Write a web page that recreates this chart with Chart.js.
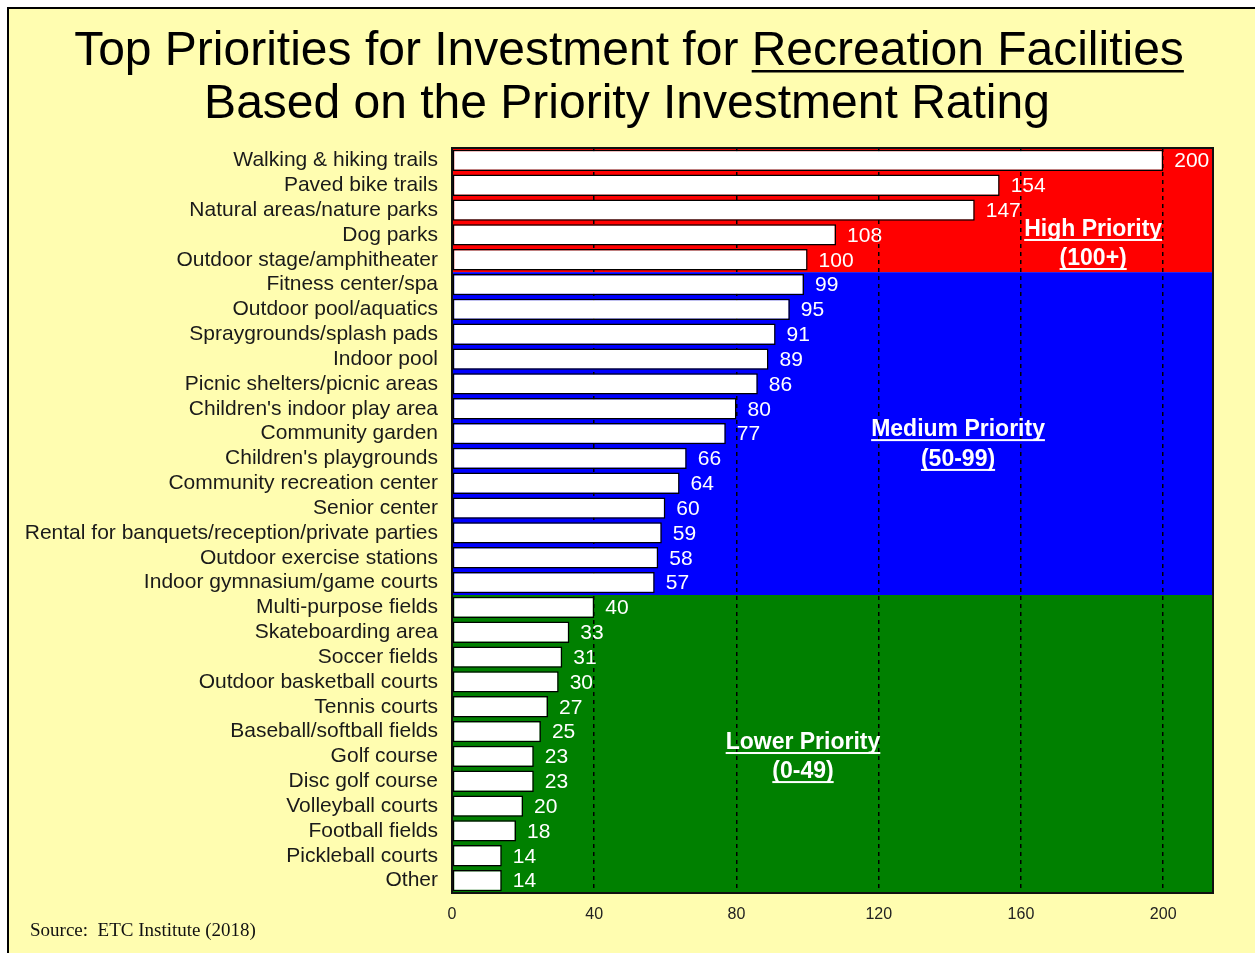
<!DOCTYPE html>
<html>
<head>
<meta charset="utf-8">
<script src="https://cdn.jsdelivr.net/npm/chart.js@4"></script>
<style>
  html, body { margin: 0; padding: 0; background: #fff; overflow: hidden; }
  #frame { position: absolute; left: 7px; top: 7px; width: 1300px; height: 1000px; border: 2px solid #000; background: #FFFDB0; }
  #myChart { position: absolute; left: 0; top: 0; }
</style>
</head>
<body>
<div id="frame"></div>
<canvas id="myChart" width="1255" height="953"></canvas>
<script>
// facilities and their priority investment rating
const facilities = [
  'Walking & hiking trails', 'Paved bike trails', 'Natural areas/nature parks', 'Dog parks',
  'Outdoor stage/amphitheater', 'Fitness center/spa', 'Outdoor pool/aquatics',
  'Spraygrounds/splash pads', 'Indoor pool', 'Picnic shelters/picnic areas',
  "Children's indoor play area", 'Community garden', "Children's playgrounds",
  'Community recreation center', 'Senior center', 'Rental for banquets/reception/private parties',
  'Outdoor exercise stations', 'Indoor gymnasium/game courts', 'Multi-purpose fields',
  'Skateboarding area', 'Soccer fields', 'Outdoor basketball courts', 'Tennis courts',
  'Baseball/softball fields', 'Golf course', 'Disc golf course', 'Volleyball courts',
  'Football fields', 'Pickleball courts', 'Other'
];
const ratings = [200, 154, 147, 108, 100, 99, 95, 91, 89, 86, 80, 77, 66, 64, 60, 59, 58, 57,
                 40, 33, 31, 30, 27, 25, 23, 23, 20, 18, 14, 14];
const xTicks = [0, 40, 80, 120, 160, 200];

// priority tiers (lowest rating in each)
const tierNames = ['High Priority', 'Medium Priority', 'Lower Priority'];
const tierRanges = ['(100+)', '(50-99)', '(0-49)'];
const tierFloors = [100, 50, 0];

const tierColors = ['#FF0000', '#0000FF', '#008000'];
// where the tier captions sit: [x value, row of first line, row of second line]
const captionSpots = [[180.3, 2.72, 3.89], [142.3, 10.78, 11.98], [98.7, 23.38, 24.55]];

const FONT = "'Liberation Sans', Arial, sans-serif";
Chart.defaults.font.family = FONT;

let tierOf = (v) => tierFloors.findIndex(f => v >= f);

const bgPlugin = {
  id: 'bands',
  beforeDraw(chart) {
    const { ctx, chartArea: a, scales: { y } } = chart;
    ctx.save();
    tierNames.forEach((name, t) => {
      const rows = ratings.map((v, i) => tierOf(v) === t ? i : -1).filter(i => i >= 0);
      if (!rows.length) return;
      const top = y.getPixelForValue(rows[0] - 0.5);
      const bottom = y.getPixelForValue(rows[rows.length - 1] + 0.5);
      ctx.fillStyle = tierColors[t];
      ctx.fillRect(a.left, top, a.right - a.left, bottom - top);
    });
    ctx.restore();
  }
};

let underlined = (ctx, text, cx, baseline, color, lineW, gap) => {
  const w = ctx.measureText(text).width;
  ctx.fillText(text, cx, baseline);
  ctx.fillStyle = color;
  ctx.fillRect(cx - w / 2, baseline + gap, w, lineW);
};

const overlayPlugin = {
  id: 'overlay',
  afterDatasetsDraw(chart) {
    const { ctx, chartArea: a, scales: { x, y } } = chart;
    ctx.save();

    // value labels
    ctx.font = '21px ' + FONT;
    ctx.fillStyle = '#fff';
    ctx.textAlign = 'left';
    ctx.textBaseline = 'middle';
    chart.getDatasetMeta(0).data.forEach((bar, i) => {
      ctx.fillText(String(ratings[i]), bar.x + 11, bar.y + 1);
    });

    // tier captions
    ctx.font = 'bold 23px ' + FONT;
    ctx.textAlign = 'center';
    ctx.textBaseline = 'alphabetic';
    tierNames.forEach((name, t) => {
      const [xv, r1, r2] = captionSpots[t];
      const cx = x.getPixelForValue(xv);
      ctx.fillStyle = '#fff';
      underlined(ctx, name, cx, y.getPixelForValue(r1) + 8, '#fff', 2, 3);
      ctx.fillStyle = '#fff';
      underlined(ctx, tierRanges[t], cx, y.getPixelForValue(r2) + 8, '#fff', 2, 3);
    });

    // plot frame
    ctx.strokeStyle = '#111';
    ctx.lineWidth = 2;
    ctx.strokeRect(a.left, a.top, a.right - a.left, a.bottom - a.top);
    ctx.restore();
  },
  afterDraw(chart) {
    const { ctx } = chart;
    ctx.save();
    ctx.fillStyle = '#000';
    ctx.textBaseline = 'alphabetic';
    ctx.font = '48px ' + FONT;
    const partA = 'Top Priorities for Investment for ';
    const partB = 'Recreation Facilities';
    const wA = ctx.measureText(partA).width;
    const wB = ctx.measureText(partB).width;
    const left = 629 - (wA + wB) / 2;
    ctx.textAlign = 'left';
    ctx.fillText(partA, left, 65);
    ctx.fillText(partB, left + wA, 65);
    ctx.fillRect(left + wA, 70, wB, 2.5);
    ctx.textAlign = 'center';
    ctx.fillText('Based on the Priority Investment Rating', 627, 118);

    ctx.textAlign = 'left';
    ctx.font = "19px 'Liberation Serif', 'Times New Roman', serif";
    ctx.fillStyle = '#111';
    ctx.fillText('Source:  ETC Institute (2018)', 30, 936);
    ctx.restore();
  }
};

const ctx = document.getElementById('myChart');
const chart = new Chart(ctx, {
  type: 'bar',
  data: {
    labels: facilities,
    datasets: [{
      data: ratings,
      backgroundColor: '#fff',
      borderColor: '#000',
      borderWidth: 1.5,
      borderSkipped: false,
      barPercentage: 0.86,
      categoryPercentage: 1
    }]
  },
  options: {
    indexAxis: 'y',
    responsive: false,
    animation: false,
    layout: { padding: { top: 148, right: 42, left: 0, bottom: 0 } },
    plugins: { legend: { display: false }, tooltip: { enabled: false } },
    scales: {
      x: {
        min: 0,
        max: 214,
        afterBuildTicks: s => { s.ticks = xTicks.map(v => ({ value: v })); },
        afterFit: s => { s.height = 60; },
        grid: {
          color: c => (c.tick && c.tick.value === 0) ? 'rgba(0,0,0,0)' : '#000',
          lineWidth: 1.5,
          drawTicks: false
        },
        border: { display: false, dash: [4, 4] },
        ticks: { color: '#222', font: { size: 16 }, padding: 12 }
      },
      y: {
        afterFit: s => { s.width = 452; },
        grid: { display: false },
        border: { display: false },
        ticks: { color: '#1a1a1a', font: { size: 21 }, padding: 6, autoSkip: false }
      }
    }
  },
  plugins: [bgPlugin, overlayPlugin]
});
</script>
</body>
</html>
